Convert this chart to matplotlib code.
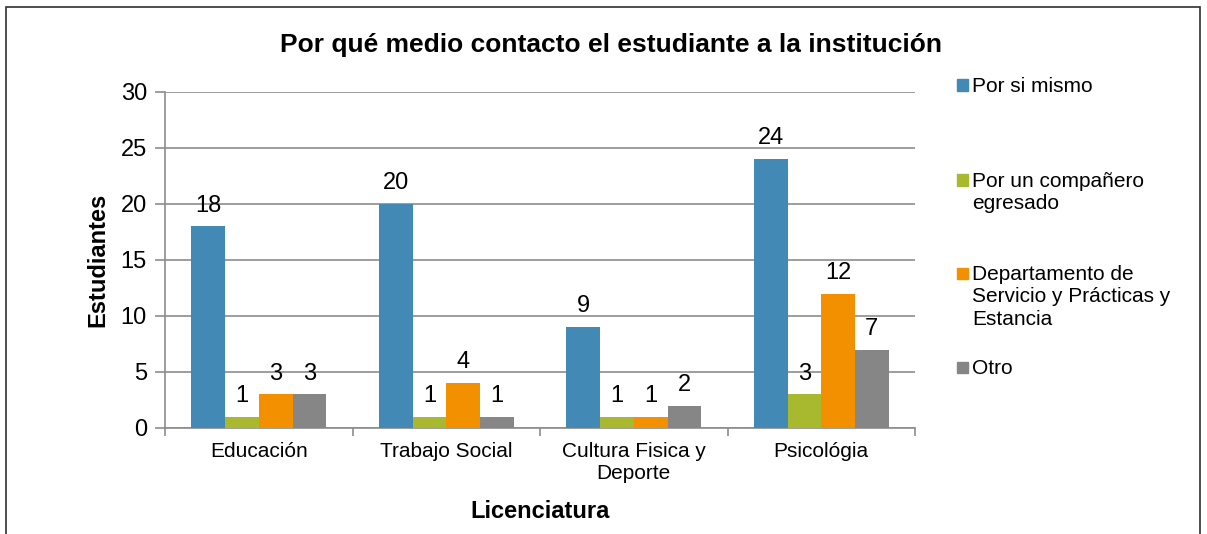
import numpy as np
import matplotlib.pyplot as plt
from matplotlib.patches import Rectangle

plt.rcParams['font.family'] = ['Liberation Sans', 'DejaVu Sans']

categorias = ["Educación", "Trabajo Social", "Cultura Fisica y\nDeporte", "Psicológia"]
series = ["Por si mismo", "Por un compañero\negresado",
          "Departamento de\nServicio y Prácticas y\nEstancia", "Otro"]
por_si_mismo = [18, 20, 9, 24]
companero = [1, 1, 1, 3]
departamento = [3, 4, 1, 12]
otro = [3, 1, 2, 7]
valores = [por_si_mismo, companero, departamento, otro]
colores = ['#4389b5', '#a8b92f', '#f39000', '#868686']

W, H = 1207, 534
fig = plt.figure(figsize=(W / 100, H / 100), dpi=100)
ax = fig.add_axes([165 / W, 1 - 428 / H, 750 / W, 336 / H])

# marco exterior
fig.patches.append(Rectangle((6 / W, -0.01), 1194 / W, 1.01 - 7 / H, transform=fig.transFigure,
                             fill=False, edgecolor='#303030', linewidth=1.2))

x = np.arange(len(categorias))
ancho = 0.18
for i, (vals, col) in enumerate(zip(valores, colores)):
    pos = x + (i - 1.5) * ancho
    barras = ax.bar(pos, vals, ancho, color=col, zorder=3)
    for b, v in zip(barras, vals):
        ax.annotate(str(v), (b.get_x() + b.get_width() / 2, v), xytext=(0, 7),
                    textcoords='offset points', ha='center', va='bottom',
                    fontsize=17, zorder=4)

ax.set_xlim(-0.5, len(categorias) - 0.5)
ax.set_ylim(0, 30)
ax.set_yticks(range(0, 31, 5))
ax.tick_params(axis='y', labelsize=17, length=7, color='#8c8c8c', width=1.2, pad=6)
ax.set_xticks(x)
ax.set_xticklabels(categorias, fontsize=15)
ax.tick_params(axis='x', length=0, pad=10)
ax.set_xticks(np.arange(-0.5, len(categorias), 1.0), minor=True)
ax.tick_params(axis='x', which='minor', length=6, color='#8c8c8c', width=1.2)
ax.grid(axis='y', color='#8c8c8c', linewidth=1.2, zorder=0)
for s in ['top', 'right']:
    ax.spines[s].set_visible(False)
for s in ['left', 'bottom']:
    ax.spines[s].set_color('#8c8c8c')
    ax.spines[s].set_linewidth(1.2)

ax.set_ylabel("Estudiantes", fontsize=17, fontweight='bold', labelpad=8)
ax.set_xlabel("Licenciatura", fontsize=17, fontweight='bold', labelpad=12)
fig.text(611 / W, 1 - 45 / H, "Por qué medio contacto el estudiante a la institución",
         ha='center', va='center', fontsize=19, fontweight='bold')

# leyenda a mano, como en Excel
leyenda_y = [85, 180, 273, 367]
for nom, col, yc in zip(series, colores, leyenda_y):
    fig.patches.append(Rectangle((957 / W, 1 - (yc + 5.5) / H), 11 / W, 11 / H,
                                 transform=fig.transFigure, color=col))
    fig.text(972 / W, 1 - (yc - 8) / H, nom, ha='left', va='top', fontsize=15,
             linespacing=1.22)

fig.savefig("out.png", dpi=100)
